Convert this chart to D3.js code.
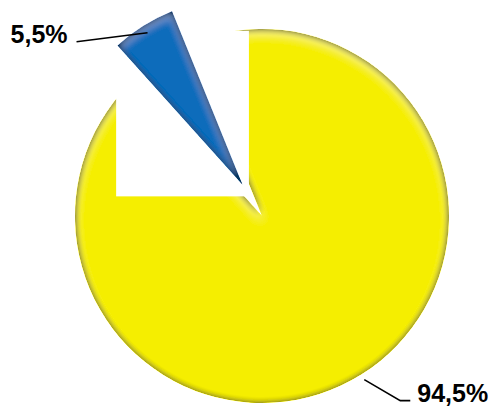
<!DOCTYPE html>
<html>
<head>
<meta charset="utf-8">
<script src="https://cdn.jsdelivr.net/npm/d3@7"></script>
<style>
  body { margin: 0; background: #fff; }
  svg { display: block; }
</style>
</head>
<body>
<svg id="chart" width="492" height="406"></svg>
<script>
// Dados do gráfico (ordem do Excel: amarelo primeiro, depois azul)
const categories = ["94,5%", "5,5%"];
const values = [94.5, 5.5];
const colors = ["#f5ee00", "#0f6cbb"];
const edgeColors = ["#5c5700", "#06355f"];
const explode = [0, 37];

const svg = d3.select("#chart");
const cx = 262, cy = 216, R = 187;
const startAngle = -22.1 * Math.PI / 180;

const pie = d3.pie().sort(null).startAngle(startAngle).endAngle(startAngle + 2 * Math.PI);
const arcs = pie(values);
const arc = d3.arc().innerRadius(0).outerRadius(R);

const defs = svg.append("defs");

// Filtro de chanfro: escurece as bordas de cada fatia
edgeColors.forEach((c, i) => {
  const f = defs.append("filter").attr("id", "bevel" + i)
    .attr("x", "-10%").attr("y", "-10%").attr("width", "120%").attr("height", "120%");
  f.append("feGaussianBlur").attr("in", "SourceAlpha").attr("stdDeviation", 4.5).attr("result", "blur");
  f.append("feComposite").attr("in", "SourceAlpha").attr("in2", "blur")
    .attr("operator", "arithmetic").attr("k2", 1.5).attr("k3", -1.6).attr("result", "edge");
  f.append("feFlood").attr("flood-color", c).attr("result", "col");
  f.append("feComposite").attr("in", "col").attr("in2", "edge").attr("operator", "in").attr("result", "dark");
  // leve brilho logo dentro da borda superior
  f.append("feOffset").attr("in", "blur").attr("dx", 0).attr("dy", 5).attr("result", "blurOff");
  f.append("feComposite").attr("in", "SourceAlpha").attr("in2", "blurOff")
    .attr("operator", "arithmetic").attr("k2", 0.6).attr("k3", -0.6).attr("result", "hl");
  f.append("feFlood").attr("flood-color", "#ffffff").attr("flood-opacity", 0.4).attr("result", "white");
  f.append("feComposite").attr("in", "white").attr("in2", "hl").attr("operator", "in").attr("result", "light");
  const m = f.append("feMerge");
  m.append("feMergeNode").attr("in", "SourceGraphic");
  m.append("feMergeNode").attr("in", "light");
  m.append("feMergeNode").attr("in", "dark");
});

const g = svg.append("g").attr("transform", `translate(${cx},${cy})`);

function offset(d, i) {
  const a = (d.startAngle + d.endAngle) / 2;
  return [Math.sin(a) * explode[i], -Math.cos(a) * explode[i]];
}

// fatia amarela
g.append("path")
  .attr("d", arc(arcs[0]))
  .attr("fill", colors[0])
  .attr("filter", "url(#bevel0)");

// retângulo branco que aparece no original (artefato da exportação)
g.append("rect")
  .attr("x", -R * 0.78).attr("y", -R * 0.99)
  .attr("width", R * 0.71).attr("height", R * 0.885)
  .attr("fill", "#fff");

// fatia azul destacada
const o1 = offset(arcs[1], 1);
g.append("path")
  .attr("transform", `translate(${o1[0]},${o1[1]})`)
  .attr("d", arc(arcs[1]))
  .attr("fill", colors[1])
  .attr("filter", "url(#bevel1)");

// rótulos com linhas de chamada
const leader = [
  { r: R + 6, pts: [[0, 0], [36, 21], [46, 21]], anchor: "start", dx: 53, dy: 22 },
  { r: R - 8, pts: [[0, 0], [-71, 9]], anchor: "end", dx: -80, dy: 10 }
];

arcs.forEach((d, i) => {
  const a = (d.startAngle + d.endAngle) / 2;
  const o = offset(d, i);
  const L = leader[i];
  const px = o[0] + Math.sin(a) * L.r;
  const py = o[1] - Math.cos(a) * L.r;
  g.append("path")
    .attr("d", d3.line()(L.pts.map(p => [px + p[0], py + p[1]])))
    .attr("fill", "none")
    .attr("stroke", "#000")
    .attr("stroke-width", 1.6);
  g.append("text")
    .attr("x", px + L.dx)
    .attr("y", py + L.dy)
    .attr("text-anchor", L.anchor)
    .attr("font-family", "Liberation Sans, Arial, sans-serif")
    .attr("font-weight", "bold")
    .attr("font-size", 25)
    .attr("fill", "#000")
    .text(categories[i]);
});
</script>
</body>
</html>
